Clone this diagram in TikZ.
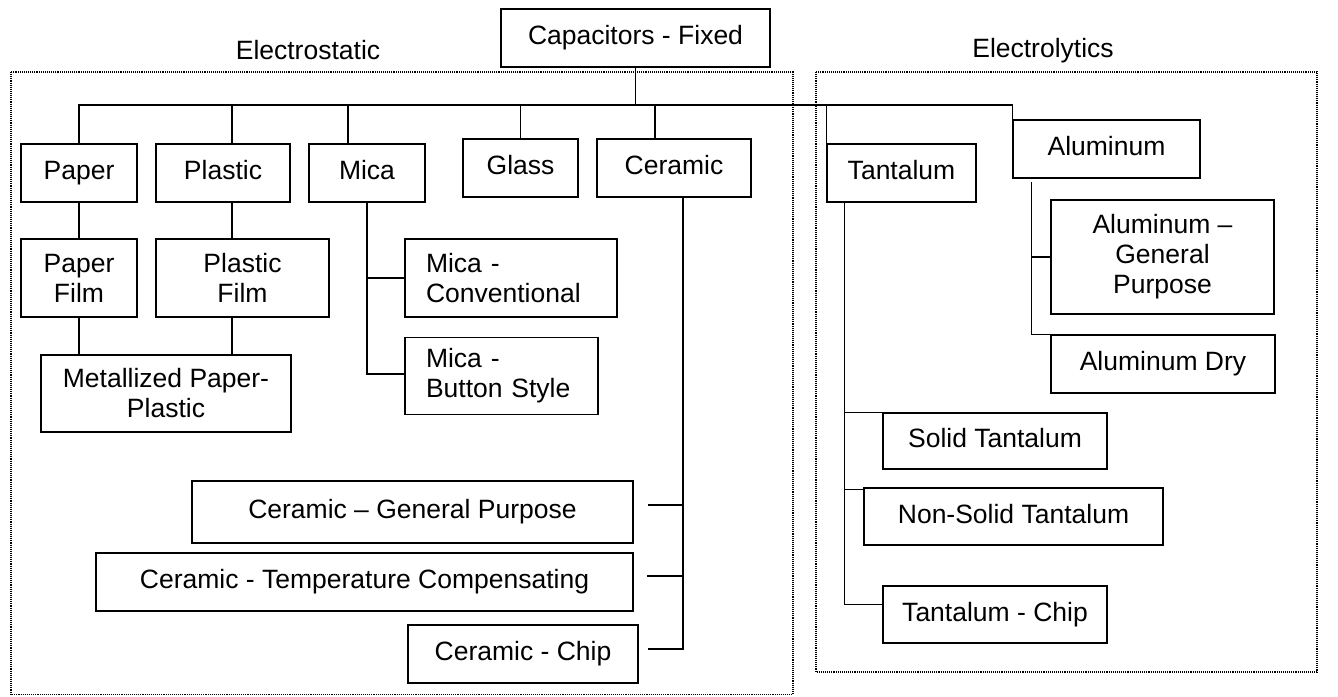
\documentclass[tikz,border=0pt]{standalone}
\usepackage{fontspec}
\setmainfont{Liberation Sans}
\tikzset{
    capbox/.style 2 args={draw, line width=1.5pt, inner sep=0pt, align=center,
        minimum width=#1pt, minimum height=#2pt},
    onebox/.style 2 args={capbox={#1}{#2}, text height=19pt, text depth=6pt},
    leftbox/.style 2 args={capbox={#1}{#2}, align=left, inner xsep=21pt},
    frame/.style={densely dotted, line width=1.1pt},
    link/.style={line width=1.5pt},
}

\begin{document}
\begin{tikzpicture}[x=1pt, y=-1pt, font=\fontsize{26.5}{30}\selectfont]
    \useasboundingbox (0,0) rectangle (1338,696);
    % the two groups
    \draw [frame] (11,72) rectangle (793,694.5);
    \draw [frame] (816,72) rectangle (1317,672);
    \node (estat) at (308,50) {Electrostatic};
    \node (elyt) at (1043,51) {Electrolytics};

    \node [onebox={269}{58}] (top) at (635.5,38) {Capacitors - Fixed};
    % first row
    \node [onebox={116}{58}] (paper) at (79,173) {Paper};
    \node [onebox={134}{58}] (plastic) at (223,173) {Plastic};
    \node [onebox={116}{58}] (mica) at (367,173) {Mica};
    \node [onebox={115}{58}] (glass) at (520.5,168) {Glass};
    \node [onebox={154}{58}] (ceramic) at (674,168) {Ceramic};
    \node [onebox={149}{58}] (tantalum) at (901.5,173) {Tantalum};
    \node [onebox={187}{58}] (aluminum) at (1106.5,149) {Aluminum};
    % paper and plastic
    \node [capbox={116}{78}] (paperfilm) at (79,278) {Paper\\Film};
    \node [capbox={173}{78}] (plasticfilm) at (242.5,278) {Plastic\\Film};
    \node [capbox={250}{77}] (metpp) at (166,393.5) {Metallized Paper-\\Plastic};
    % mica
    \node [leftbox={212}{78}, text width=170pt] (micaconv) at (511,278) {Mica -\\Conventional};
    \node [leftbox={193}{77}, text width=151pt] (micabtn) at (501.5,376) {Mica -\\Button Style};
    % ceramic
    \node [onebox={441}{62}] (cergp) at (412.5,512) {Ceramic -- General Purpose};
    \node [onebox={537}{58}] (certemp) at (364.5,582) {Ceramic - Temperature Compensating};
    \node [onebox={230}{58}] (cerchip) at (523,654) {Ceramic - Chip};
    % aluminum
    \node [capbox={223}{114}] (algp) at (1162.5,257) {Aluminum --\\General\\Purpose};
    \node [onebox={224}{58}] (aldry) at (1163,364) {Aluminum Dry};
    % tantalum
    \node [onebox={224}{56}] (soltan) at (995,441) {Solid Tantalum};
    \node [onebox={299}{57}] (nstan) at (1013.5,516.5) {Non-Solid Tantalum};
    \node [onebox={224}{57}] (tanchip) at (995,614.5) {Tantalum - Chip};

    % main bus
    \coordinate (bus) at (636,105);
    \coordinate (plx) at (232,105);
    \coordinate (tanx) at ([xshift=18pt]tantalum.south west);
    \draw [link] (top.south) -- (top.south |- bus);
    \draw [link] (paper.north) -- (paper.north |- bus) -- (bus -| aluminum.north west) -- (aluminum.north west);
    \draw [link] (plastic.north -| plx) -- (plx);
    \draw [link] ([xshift=-19pt]mica.north) -- ([xshift=-19pt]mica.north |- bus);
    \draw [link] (glass.north) -- (glass.north |- bus);
    \draw [link] ([xshift=-19pt]ceramic.north) -- ([xshift=-19pt]ceramic.north |- bus);
    \draw [link] (tantalum.north west) -- (tantalum.north west |- bus);

    \draw [link] (paper.south) -- (paperfilm.north);
    \draw [link] (paperfilm.south) -- (paperfilm.south |- metpp.north);
    \draw [link] (plastic.south -| plx) -- (plasticfilm.north -| plx);
    \draw [link] (plasticfilm.south -| plx) -- (metpp.north -| plx);

    \draw [link] (mica.south) |- ([yshift=2pt]micabtn.west);
    \draw [link] (micaconv.west) -- (micaconv.west -| mica.south);

    \draw [link] ([shift={(9,-5)}]cerchip.east) -| ([xshift=9pt]ceramic.south);
    \draw [link] ([shift={(14,-7)}]cergp.east) -- ++(36,0);
    \draw [link] ([shift={(13,-6)}]certemp.east) -- ++(37,0);

    \draw [link] ([shift={(19,3)}]aluminum.south west) |- (aldry.north west);
    \draw [link] (algp.west) -- ++(-19,0);

    \draw [link] (tanx) |- ([yshift=10pt]tanchip.west);
    \draw [link] (soltan.north west) -- (soltan.north west -| tanx);
    \draw [link] ([yshift=-2pt]nstan.north west) -- ([yshift=-2pt]nstan.north west -| tanx);
\end{tikzpicture}
\end{document}
